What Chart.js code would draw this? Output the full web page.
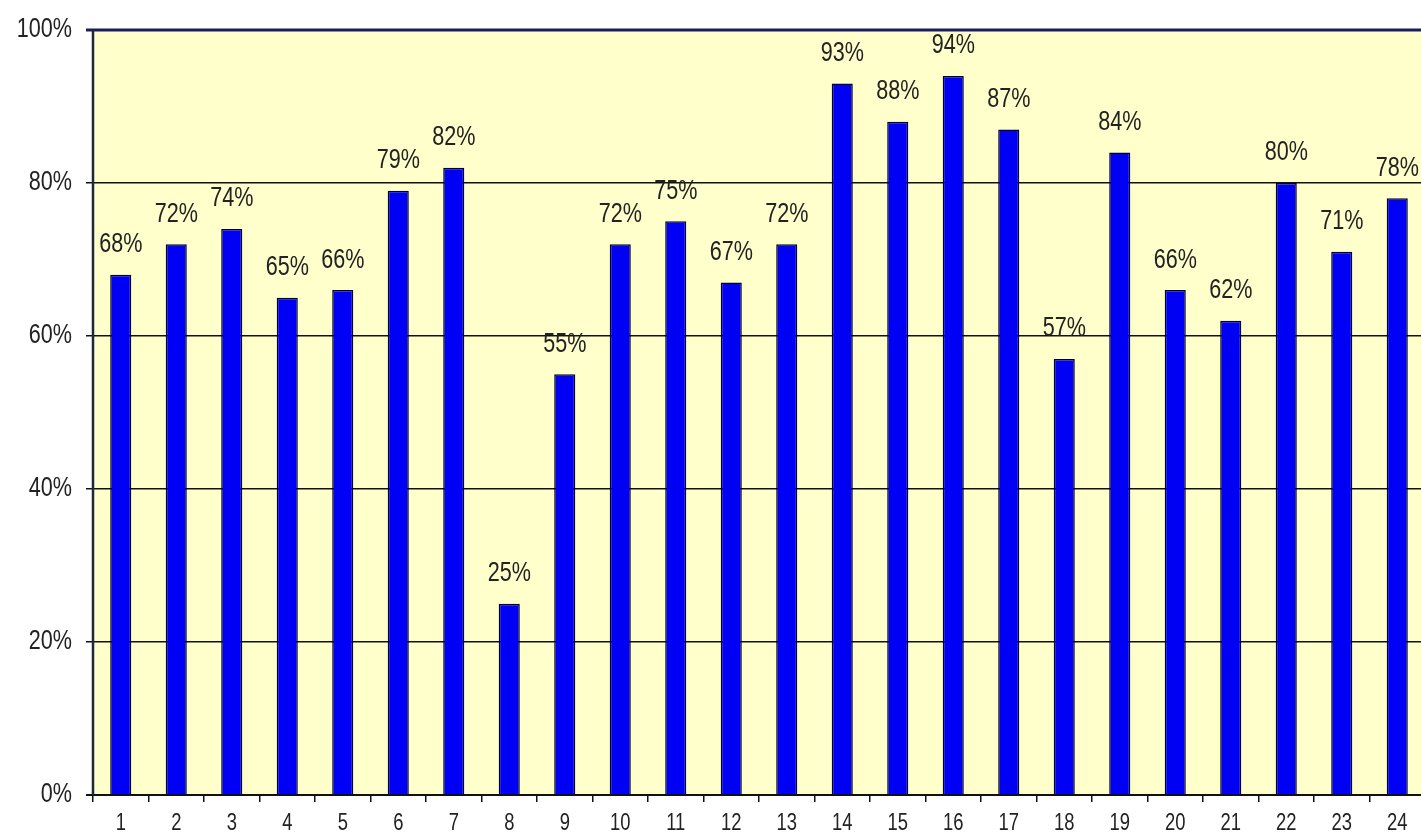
<!DOCTYPE html>
<html>
<head>
<meta charset="utf-8">
<script src="https://cdn.jsdelivr.net/npm/chart.js@4/dist/chart.umd.min.js"></script>
<style>
  html, body { margin: 0; padding: 0; background: #fff; overflow: hidden; }
  #wrap { position: relative; width: 1425px; height: 835px; }
</style>
</head>
<body>
<div id="wrap"><canvas id="myBarChart"></canvas></div>
<script>
const categories = ['1','2','3','4','5','6','7','8','9','10','11','12','13','14','15','16','17','18','19','20','21','22','23','24'];
const values = [68, 72, 74, 65, 66, 79, 82, 25, 55, 72, 75, 67, 72, 93, 88, 94, 87, 57, 84, 66, 62, 80, 71, 78];
const yTicks = [0, 20, 40, 60, 80, 100];

const FONT = '"Liberation Sans", Arial, sans-serif';
const SQUEEZE = 0.8; // the original text is horizontally narrow

// draw text squeezed horizontally around (x, y)
function narrowText(ctx, text, x, y, align) {
    ctx.save();
    ctx.translate(x, y);
    ctx.scale(SQUEEZE, 1);
    ctx.textAlign = align;
    ctx.fillText(text, 0, 0);
    ctx.restore();
}

// yellow plot background
const plotBg = {
    id: 'plotBg',
    beforeDraw(chart) {
        const a = chart.chartArea, ctx = chart.ctx;
        ctx.save();
        ctx.fillStyle = '#ffffcc';
        ctx.fillRect(a.left, a.top, a.right - a.left, a.bottom - a.top);
        ctx.restore();
    }
};

// frame lines, tick texts and value labels
const frameAndLabels = {
    id: 'frameAndLabels',
    afterDatasetsDraw(chart) {
        const a = chart.chartArea, ctx = chart.ctx;
        ctx.save();
        // top border
        ctx.strokeStyle = '#1c1c5c';
        ctx.lineWidth = 3;
        ctx.beginPath();
        ctx.moveTo(a.left - 7, a.top);
        ctx.lineTo(a.right, a.top);
        ctx.stroke();
        // bottom axis
        ctx.strokeStyle = '#111';
        ctx.lineWidth = 2;
        ctx.beginPath();
        ctx.moveTo(a.left - 7, a.bottom);
        ctx.lineTo(a.right, a.bottom);
        ctx.stroke();
        // left axis
        ctx.strokeStyle = '#1a2a3a';
        ctx.lineWidth = 2.5;
        ctx.beginPath();
        ctx.moveTo(a.left, a.top);
        ctx.lineTo(a.left, a.bottom);
        ctx.stroke();

        ctx.fillStyle = '#222';
        ctx.textBaseline = 'middle';

        // y tick texts
        ctx.font = '27px ' + FONT;
        const ys = chart.scales.y;
        yTicks.forEach(v => {
            narrowText(ctx, v + '%', 72, ys.getPixelForValue(v), 'right');
        });

        // x tick texts
        ctx.font = '23px ' + FONT;
        const xs = chart.scales.x;
        categories.forEach((c, i) => {
            narrowText(ctx, c, xs.getPixelForTick(i), 824, 'center');
        });

        // value labels
        ctx.font = '27px ' + FONT;
        chart.getDatasetMeta(0).data.forEach((bar, i) => {
            narrowText(ctx, values[i] + '%', bar.x, bar.y - 30, 'center');
        });
        ctx.restore();
    }
};

var ctx = document.getElementById('myBarChart').getContext('2d');

var myBarChart = new Chart(ctx, {
    type: 'bar',
    data: {
        labels: categories,
        datasets: [{
            data: values,
            backgroundColor: '#0000f4',
            borderColor: '#000030',
            borderWidth: 1.5,
            borderSkipped: 'bottom',
            categoryPercentage: 1,
            barPercentage: 0.38,
        }]
    },
    options: {
        responsive: true,
        maintainAspectRatio: false,
        animation: false,
        devicePixelRatio: 1,
        layout: { padding: { top: 30, left: 0, right: 0, bottom: 0 } },
        plugins: {
            legend: { display: false },
            tooltip: { enabled: false },
        },
        scales: {
            x: {
                grid: {
                    offset: true,
                    drawOnChartArea: false,
                    drawTicks: true,
                    tickLength: 7,
                    tickColor: '#111',
                    lineWidth: 1.5,
                },
                border: { display: false },
                ticks: { display: false, autoSkip: false },
                afterFit: (scale) => { scale.height = 40; },
            },
            y: {
                min: 0,
                max: 100,
                afterBuildTicks: (scale) => {
                    scale.ticks = yTicks.map(v => ({ value: v }));
                },
                grid: {
                    color: (c) => (c.tick && (c.tick.value === 0 || c.tick.value === 100)) ? 'rgba(0,0,0,0)' : '#111',
                    lineWidth: 1.5,
                    drawTicks: true,
                    tickLength: 7,
                    tickColor: '#111',
                },
                border: { display: false },
                ticks: { display: false },
                afterFit: (scale) => { scale.width = 93; },
            },
        },
    },
    plugins: [plotBg, frameAndLabels],
});
</script>
</body>
</html>
